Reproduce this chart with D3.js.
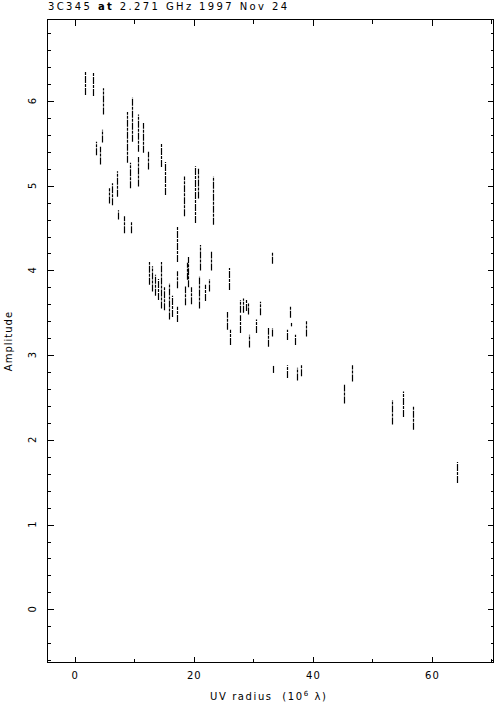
<!DOCTYPE html>
<html>
<head>
<meta charset="utf-8">
<script src="https://cdn.jsdelivr.net/npm/d3@7/dist/d3.min.js"></script>
<style>
  html, body { margin: 0; padding: 0; background: #fff; }
  svg { display: block; }
  text { font-family: "DejaVu Sans", sans-serif; fill: #000; }
</style>
</head>
<body>
<svg id="chart" width="497" height="704"></svg>
<script>
// 3C345 visibility amplitude vs uv radius — each scan is drawn as a vertical track
// UV radius (10^6 lambda) of each track
const trackUV = [
  1.8, 3.1, 4.75, 4.5, 3.5, 4.2, 8.8, 9.7, 10.6, 11.4, 9.2, 10.6, 12.3, 14.5, 15.2,
  18.4, 20.2, 20.7, 23.3, 7.1, 6.3, 5.7, 7.3, 8.2, 9.5, 17.2,
  12.4, 13.0, 13.5, 14.0, 14.5, 15.0, 15.8, 16.3, 17.2, 17.2, 18.6, 18.8, 19.1, 19.5,
  21.0, 20.8, 21.8, 22.5, 22.9, 25.9, 25.5, 26.0, 27.8, 28.3, 28.8, 29.1, 27.8, 29.3,
  30.4, 31.2, 32.4, 33.1, 33.2, 33.3, 35.7, 36.1, 36.4, 37.0, 35.7, 37.3, 38.0, 38.9,
  45.2, 46.5, 53.3, 55.1, 56.8, 64.2
];
// lowest amplitude of each track
const trackLo = [
  6.07, 6.06, 5.84, 5.51, 5.36, 5.25, 5.27, 5.52, 5.40, 5.39, 4.97, 4.99, 5.19, 5.22, 4.89,
  4.64, 4.56, 4.85, 4.54, 4.87, 4.77, 4.79, 4.60, 4.44, 4.44, 4.10,
  3.83, 3.75, 3.70, 3.65, 3.55, 3.53, 3.42, 3.45, 3.39, 3.79, 3.59, 3.89, 3.80, 3.60,
  4.00, 3.55, 3.64, 3.75, 4.00, 3.77, 3.30, 3.12, 3.50, 3.50, 3.52, 3.48, 3.26, 3.09,
  3.26, 3.47, 3.10, 3.22, 4.08, 2.79, 3.18, 3.44, 3.34, 3.12, 2.73, 2.70, 2.75, 3.22,
  2.43, 2.69, 2.18, 2.27, 2.12, 1.49
];
// highest amplitude of each track
const trackHi = [
  6.35, 6.34, 6.15, 5.66, 5.52, 5.46, 5.87, 6.04, 5.84, 5.74, 5.27, 5.34, 5.40, 5.50, 5.28,
  5.11, 5.23, 5.20, 5.11, 5.17, 5.03, 4.97, 4.71, 4.64, 4.58, 4.52,
  4.10, 4.05, 3.95, 3.90, 4.10, 3.80, 3.85, 3.70, 3.57, 3.99, 3.81, 4.09, 4.16, 3.80,
  4.30, 3.93, 3.83, 3.90, 4.22, 4.03, 3.51, 3.30, 3.65, 3.67, 3.66, 3.62, 3.47, 3.24,
  3.42, 3.63, 3.32, 3.32, 4.22, 2.88, 3.30, 3.57, 3.38, 3.24, 2.88, 2.85, 2.88, 3.40,
  2.65, 2.88, 2.47, 2.57, 2.39, 1.74
];

const xMajor = [0, 20, 40, 60];
const xMinor = [10, 30, 50, 70];
const yMajor = [0, 1, 2, 3, 4, 5, 6];

const titleText = '3C345';
const titleBold = 'at';
const titleRest = '2.271 GHz 1997 Nov 24';

// ── Layout ──────────────────────────────────────────────────────────────────
const svg = d3.select('#chart');
const L = 47.5, R = 493.5, T = 19.5, B = 662.5;

const x = d3.scaleLinear().domain([-4.575, 70.34]).range([L, R]);
const y = d3.scaleLinear().domain([-0.628, 6.962]).range([B, T]);

const yMinor = d3.range(-0.6, 6.95, 0.2)
  .map(v => Math.round(v * 10) / 10)
  .filter(v => !Number.isInteger(v));

// ── Axes (PGPLOT style: ticks inward on all four sides) ───────────────────
function tickAxis(axisFn, scale, values, size, tx, ty, withLabels) {
  const g = svg.append('g')
    .attr('transform', `translate(${tx},${ty})`)
    .call(axisFn(scale).tickValues(values).tickSize(-size).tickPadding(9)
      .tickFormat(withLabels ? d3.format('d') : ''));
  g.select('.domain').remove();
  g.selectAll('line').attr('stroke', '#000').attr('shape-rendering', 'crispEdges');
  return g;
}

const xb = tickAxis(d3.axisBottom, x, xMajor, 6, 0, B, true);
xb.selectAll('text').attr('font-size', 10).attr('letter-spacing', 1)
  .attr('font-family', '"DejaVu Sans", sans-serif');
tickAxis(d3.axisBottom, x, xMinor, 4, 0, B, false);
tickAxis(d3.axisTop, x, xMajor, 6, 0, T, false);
tickAxis(d3.axisTop, x, xMinor, 4, 0, T, false);

tickAxis(d3.axisLeft, y, yMajor, 6, L, 0, false);
tickAxis(d3.axisLeft, y, yMinor, 3, L, 0, false);
tickAxis(d3.axisRight, y, yMajor, 6, R, 0, false);
tickAxis(d3.axisRight, y, yMinor, 3, R, 0, false);

// rotated y tick labels
svg.append('g').selectAll('text')
  .data(yMajor)
  .enter().append('text')
  .attr('transform', d => `translate(36,${y(d)}) rotate(-90)`)
  .attr('text-anchor', 'middle')
  .attr('font-size', 10)
  .text(d => d);

// frame
svg.append('rect')
  .attr('x', L).attr('y', T)
  .attr('width', R - L).attr('height', B - T)
  .attr('fill', 'none').attr('stroke', '#000').attr('stroke-width', 1)
  .attr('shape-rendering', 'crispEdges');

// ── Data tracks ───────────────────────────────────────────────────────────
svg.append('g').selectAll('line')
  .data(trackUV.map((u, i) => ({ u, lo: trackLo[i], hi: trackHi[i] })))
  .enter().append('line')
  .attr('x1', d => Math.round(x(d.u)) + 0.5)
  .attr('x2', d => Math.round(x(d.u)) + 0.5)
  .attr('y1', d => y(d.lo))
  .attr('y2', d => y(d.hi))
  .attr('stroke', '#000')
  .attr('stroke-width', 1.2)
  .attr('stroke-dasharray', '7 1 3 1');

// ── Labels ────────────────────────────────────────────────────────────────
const title = svg.append('text')
  .attr('x', 48).attr('y', 10)
  .attr('font-size', 10)
  .attr('textLength', 239).attr('lengthAdjust', 'spacing');
title.append('tspan').text(titleText + ' ');
title.append('tspan').attr('font-weight', 'bold').text(titleBold);
title.append('tspan').text(' ' + titleRest);

const xt = svg.append('text')
  .attr('x', 210).attr('y', 700)
  .attr('font-size', 10)
  .attr('letter-spacing', 1.6)
  .attr('xml:space', 'preserve');
xt.append('tspan').text('UV radius  (10');
xt.append('tspan').attr('font-size', 7).attr('dy', -4).text('6');
xt.append('tspan').attr('dy', 4).text(' \u03BB)');

svg.append('text')
  .attr('transform', `translate(12,${(T + B) / 2}) rotate(-90)`)
  .attr('text-anchor', 'middle')
  .attr('font-size', 10)
  .attr('letter-spacing', 1)
  .text('Amplitude');
</script>
</body>
</html>
